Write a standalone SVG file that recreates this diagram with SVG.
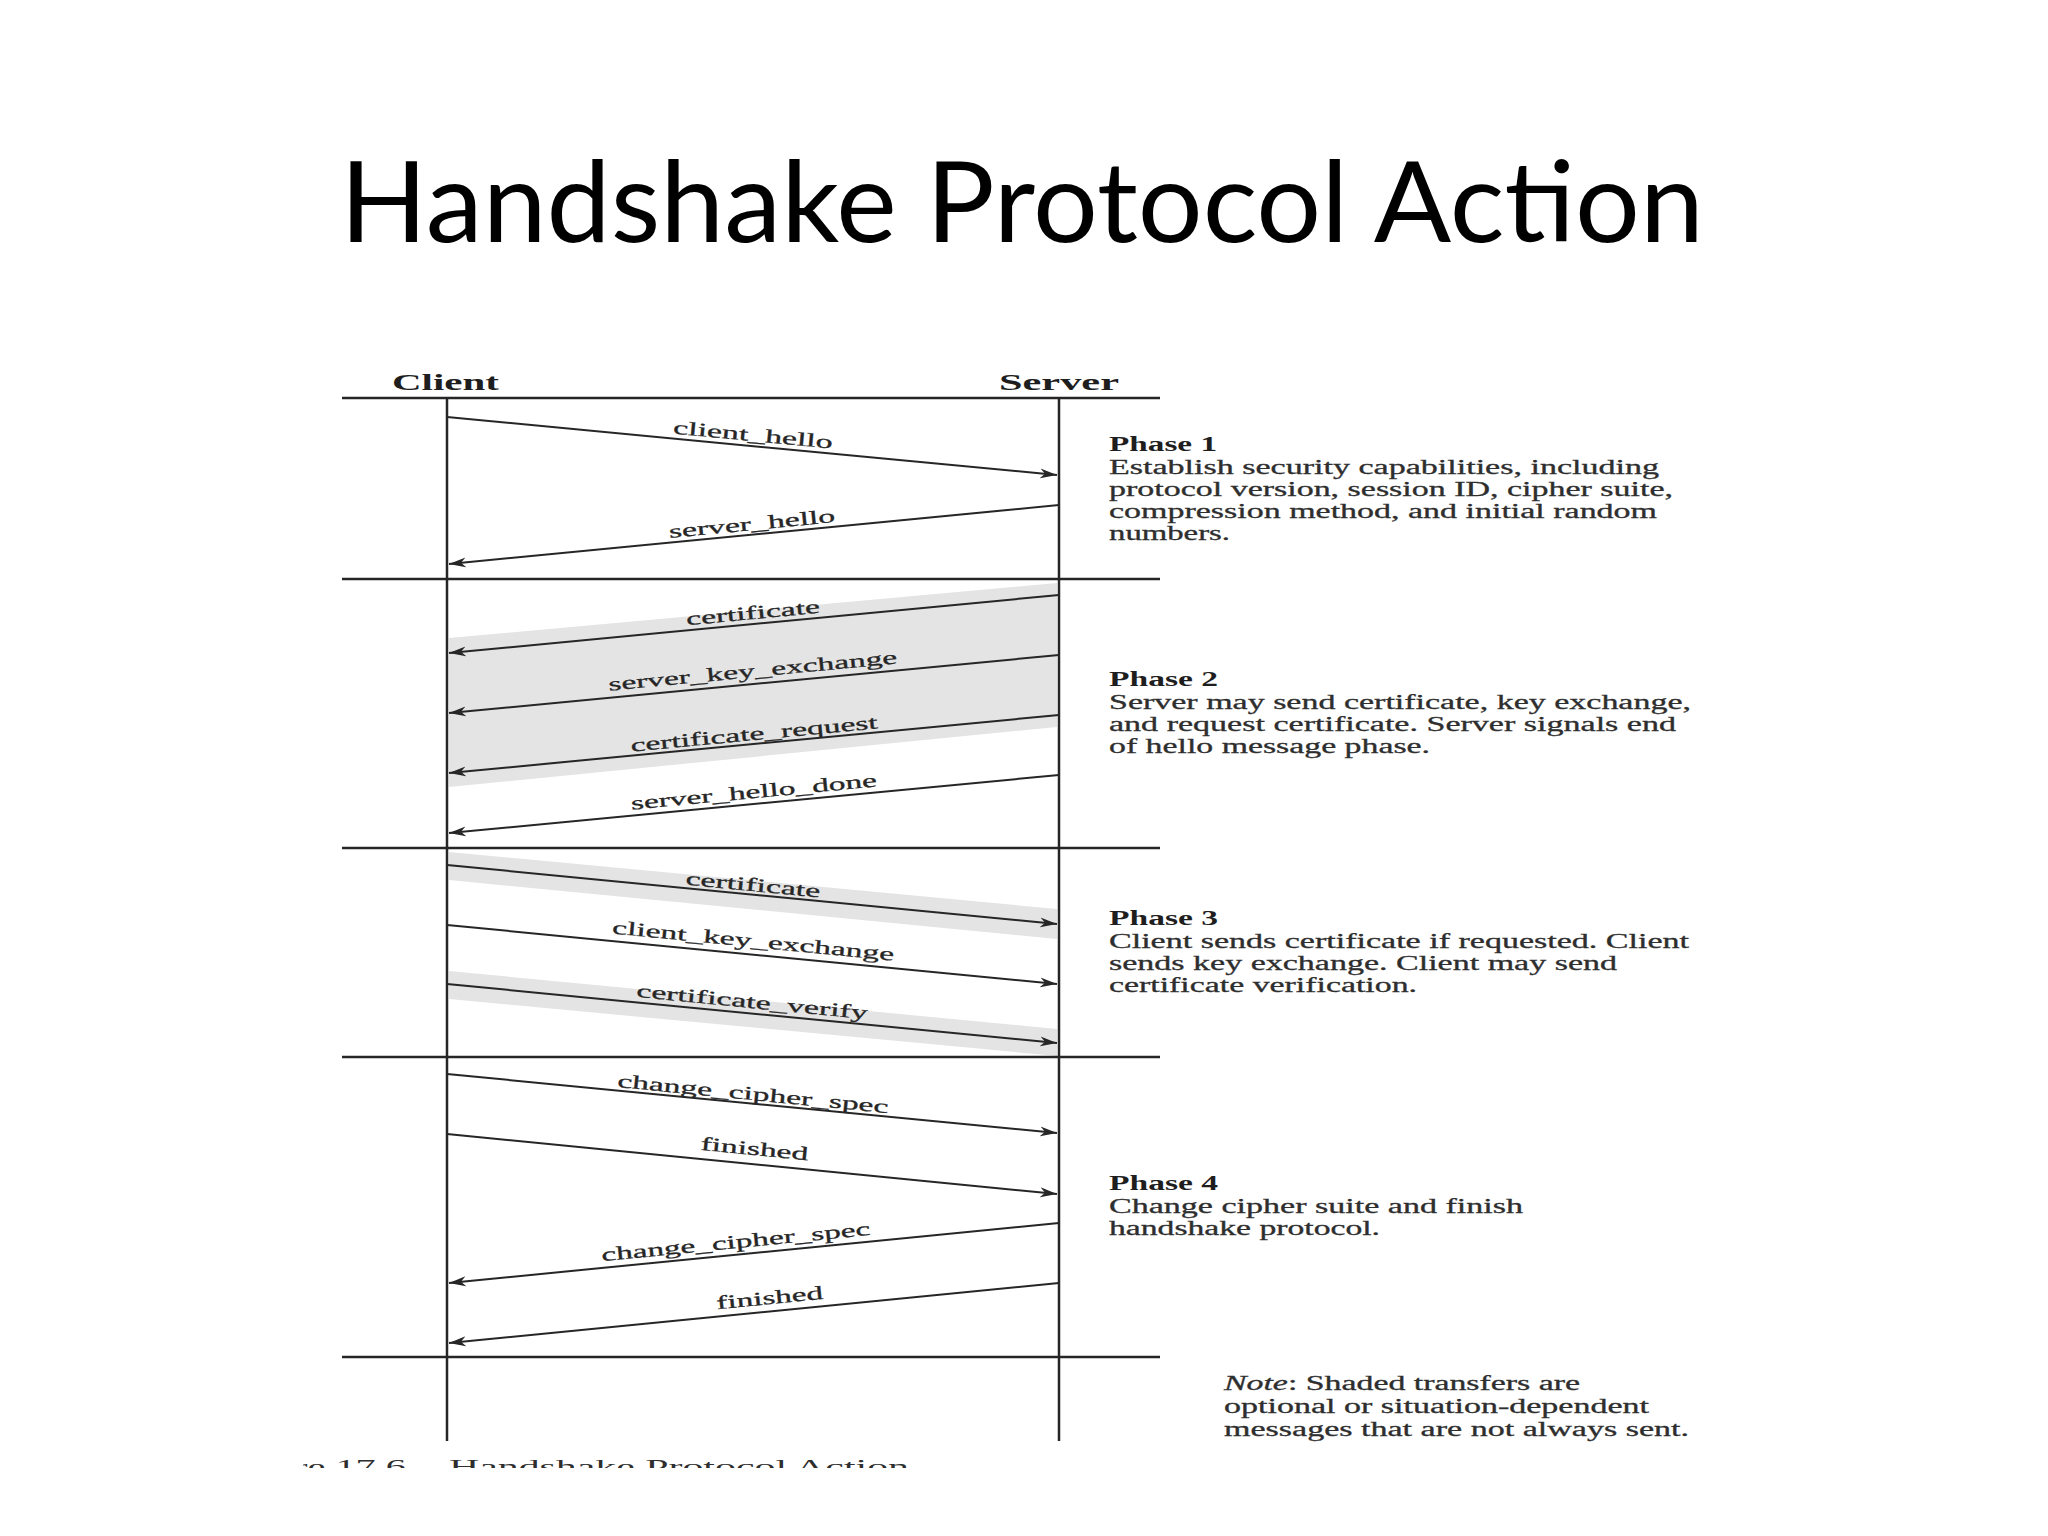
<svg xmlns="http://www.w3.org/2000/svg" width="2048" height="1536" viewBox="0 0 2048 1536">
<defs>
<style>
.ln{stroke:#262626;stroke-width:2.5;fill:none}
.ar{stroke:#262626;stroke-width:2;fill:none;marker-end:url(#ah)}
.band{fill:#e4e4e4}
.lbl{font-family:"Liberation Serif",serif;font-size:19px;fill:#262626;text-anchor:middle;stroke:#262626;stroke-width:0.3}
.hd{font-family:"Liberation Serif",serif;font-size:20px;font-weight:bold;fill:#1e1e1e}
.body{font-family:"Liberation Serif",serif;font-size:20px;fill:#2e2e2e;stroke:#2e2e2e;stroke-width:0.3}
.cap{font-family:"Liberation Serif",serif;font-size:22px;fill:#2e2e2e}
.actor{font-family:"Liberation Serif",serif;font-size:23px;font-weight:bold;fill:#1e1e1e}
</style>
<marker id="ah" markerUnits="userSpaceOnUse" markerWidth="18" markerHeight="12" refX="17" refY="6" orient="auto">
<path d="M0,1 L17,6 L0,11 L5,6 Z" fill="#262626"/>
</marker>
<clipPath id="capclip"><rect x="303" y="1445" width="700" height="23"/></clipPath>
</defs>
<rect width="2048" height="1536" fill="#ffffff"/>
<text x="340" y="242" font-family="Lato, sans-serif" font-size="112" textLength="1364" lengthAdjust="spacingAndGlyphs" fill="#000">Handshake Protocol Action</text>

<!-- shaded bands -->
<g id="bands">
<polygon class="band" points="449,638 1057,583 1057,727 449,787"/>
<polygon class="band" points="449,852 1057,909 1057,939 449,880"/>
<polygon class="band" points="449,971 1057,1029 1057,1056 449,999"/>
</g>

<g id="client">
<text class="actor" x="392" y="390" textLength="107" lengthAdjust="spacingAndGlyphs">Client</text>
<line class="ln" x1="447" y1="398" x2="447" y2="1441"/>
</g>
<g id="server">
<text class="actor" x="999" y="390" textLength="120" lengthAdjust="spacingAndGlyphs">Server</text>
<line class="ln" x1="1059" y1="398" x2="1059" y2="1441"/>
</g>

<g id="separators">
<line class="ln" x1="342" y1="398" x2="1160" y2="398"/>
<line class="ln" x1="342" y1="579" x2="1160" y2="579"/>
<line class="ln" x1="342" y1="848" x2="1160" y2="848"/>
<line class="ln" x1="342" y1="1057" x2="1160" y2="1057"/>
<line class="ln" x1="342" y1="1357" x2="1160" y2="1357"/>
</g>

<g id="connectors">
<line class="ar" x1="447" y1="417" x2="1057" y2="475"/>
<line class="ar" x1="1059" y1="505" x2="449" y2="564"/>
<line class="ar" x1="1059" y1="595" x2="449" y2="653"/>
<line class="ar" x1="1059" y1="655" x2="449" y2="713"/>
<line class="ar" x1="1059" y1="715" x2="449" y2="773"/>
<line class="ar" x1="1059" y1="775" x2="449" y2="833"/>
<line class="ar" x1="447" y1="865" x2="1057" y2="924"/>
<line class="ar" x1="447" y1="925" x2="1057" y2="984"/>
<line class="ar" x1="447" y1="984" x2="1057" y2="1043"/>
<line class="ar" x1="447" y1="1074" x2="1057" y2="1133"/>
<line class="ar" x1="447" y1="1134" x2="1057" y2="1194"/>
<line class="ar" x1="1059" y1="1223" x2="449" y2="1283"/>
<line class="ar" x1="1059" y1="1283" x2="449" y2="1343"/>
</g>

<g id="labels">
<g transform="translate(752,446) rotate(5.43)"><text class="lbl" y="-5" textLength="160" lengthAdjust="spacingAndGlyphs">client_hello</text></g>
<g transform="translate(753,535) rotate(-5.52)"><text class="lbl" y="-5" textLength="167" lengthAdjust="spacingAndGlyphs">server_hello</text></g>
<g transform="translate(754,624) rotate(-5.43)"><text class="lbl" y="-5" textLength="134" lengthAdjust="spacingAndGlyphs">certificate</text></g>
<g transform="translate(754,684) rotate(-5.43)"><text class="lbl" y="-7" textLength="290" lengthAdjust="spacingAndGlyphs">server_key_exchange</text></g>
<g transform="translate(755,744) rotate(-5.43)"><text class="lbl" y="-4" textLength="248" lengthAdjust="spacingAndGlyphs">certificate_request</text></g>
<g transform="translate(755,804) rotate(-5.43)"><text class="lbl" y="-6" textLength="247" lengthAdjust="spacingAndGlyphs">server_hello_done</text></g>
<g transform="translate(752,895) rotate(5.52)"><text class="lbl" y="-4" textLength="135" lengthAdjust="spacingAndGlyphs">certificate</text></g>
<g transform="translate(752,954) rotate(5.52)"><text class="lbl" y="-7" textLength="283" lengthAdjust="spacingAndGlyphs">client_key_exchange</text></g>
<g transform="translate(751,1013) rotate(5.52)"><text class="lbl" y="-5" textLength="232" lengthAdjust="spacingAndGlyphs">certificate_verify</text></g>
<g transform="translate(752,1104) rotate(5.52)"><text class="lbl" y="-4" textLength="272" lengthAdjust="spacingAndGlyphs">change_cipher_spec</text></g>
<g transform="translate(753,1164) rotate(5.6)"><text class="lbl" y="-9" textLength="108" lengthAdjust="spacingAndGlyphs">finished</text></g>
<g transform="translate(737,1255) rotate(-5.6)"><text class="lbl" y="-7" textLength="270" lengthAdjust="spacingAndGlyphs">change_cipher_spec</text></g>
<g transform="translate(771,1311) rotate(-5.6)"><text class="lbl" y="-7" textLength="107" lengthAdjust="spacingAndGlyphs">finished</text></g>
</g>

<g id="phase1">
<text class="hd" x="1109" y="451" textLength="108" lengthAdjust="spacingAndGlyphs">Phase 1</text>
<text class="body" x="1109" y="474" textLength="550" lengthAdjust="spacingAndGlyphs">Establish security capabilities, including</text>
<text class="body" x="1109" y="496" textLength="564" lengthAdjust="spacingAndGlyphs">protocol version, session ID, cipher suite,</text>
<text class="body" x="1109" y="518" textLength="548" lengthAdjust="spacingAndGlyphs">compression method, and initial random</text>
<text class="body" x="1109" y="540" textLength="121" lengthAdjust="spacingAndGlyphs">numbers.</text>
</g>
<g id="phase2">
<text class="hd" x="1109" y="686" textLength="109" lengthAdjust="spacingAndGlyphs">Phase 2</text>
<text class="body" x="1109" y="709" textLength="582" lengthAdjust="spacingAndGlyphs">Server may send certificate, key exchange,</text>
<text class="body" x="1109" y="731" textLength="567" lengthAdjust="spacingAndGlyphs">and request certificate. Server signals end</text>
<text class="body" x="1109" y="753" textLength="321" lengthAdjust="spacingAndGlyphs">of hello message phase.</text>
</g>
<g id="phase3">
<text class="hd" x="1109" y="925" textLength="109" lengthAdjust="spacingAndGlyphs">Phase 3</text>
<text class="body" x="1109" y="948" textLength="580" lengthAdjust="spacingAndGlyphs">Client sends certificate if requested. Client</text>
<text class="body" x="1109" y="970" textLength="508" lengthAdjust="spacingAndGlyphs">sends key exchange. Client may send</text>
<text class="body" x="1109" y="992" textLength="308" lengthAdjust="spacingAndGlyphs">certificate verification.</text>
</g>
<g id="phase4">
<text class="hd" x="1109" y="1190" textLength="109" lengthAdjust="spacingAndGlyphs">Phase 4</text>
<text class="body" x="1109" y="1213" textLength="414" lengthAdjust="spacingAndGlyphs">Change cipher suite and finish</text>
<text class="body" x="1109" y="1235" textLength="271" lengthAdjust="spacingAndGlyphs">handshake protocol.</text>
</g>
<g id="note">
<text class="body" x="1224" y="1390" textLength="356" lengthAdjust="spacingAndGlyphs"><tspan font-style="italic">Note</tspan>: Shaded transfers are</text>
<text class="body" x="1224" y="1413" textLength="425" lengthAdjust="spacingAndGlyphs">optional or situation-dependent</text>
<text class="body" x="1224" y="1436" textLength="465" lengthAdjust="spacingAndGlyphs">messages that are not always sent.</text>
</g>
<g id="caption" clip-path="url(#capclip)">
<text class="cap" x="294" y="1474" textLength="112" lengthAdjust="spacingAndGlyphs">re 17.6</text>
<text class="cap" x="449" y="1474" textLength="460" lengthAdjust="spacingAndGlyphs">Handshake Protocol Action</text>
</g>
</svg>
